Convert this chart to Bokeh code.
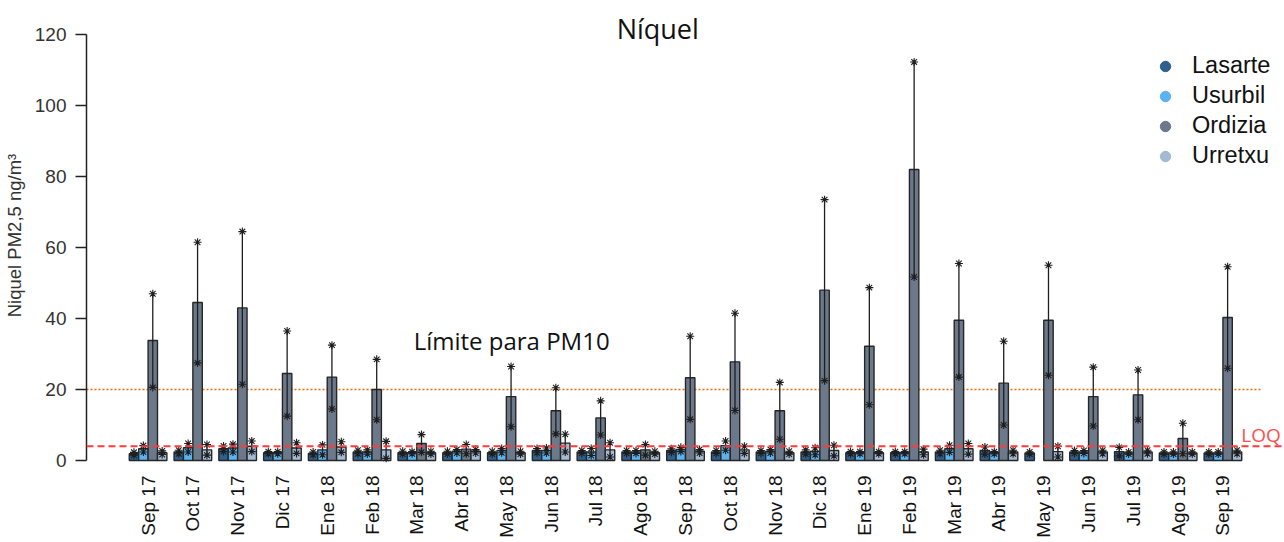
import math
import numpy as np
from bokeh.plotting import figure
from bokeh.models import (ColumnDataSource, Range1d, FixedTicker, Span, Label,
                          Legend, LegendItem)
from bokeh.transform import dodge
from bokeh.embed import file_html
from bokeh.resources import INLINE

# Monthly mean nickel concentrations in PM2.5 (ng/m3) and their standard deviations
months = ["Sep 17", "Oct 17", "Nov 17", "Dic 17", "Ene 18", "Feb 18", "Mar 18",
          "Abr 18", "May 18", "Jun 18", "Jul 18", "Ago 18", "Sep 18", "Oct 18",
          "Nov 18", "Dic 18", "Ene 19", "Feb 19", "Mar 19", "Abr 19", "May 19",
          "Jun 19", "Jul 19", "Ago 19", "Sep 19"]

lasarte = [1.9, 2.4, 3.3, 2.2, 2.0, 2.4, 2.2, 2.2, 2.2, 2.8, 2.4, 2.4, 2.8,
           2.4, 2.4, 2.4, 2.2, 2.2, 2.4, 2.8, 2.1, 2.4, 2.5, 2.1, 2.1]
lasarte_sd = [0.4, 0.5, 0.8, 0.3, 0.4, 0.5, 0.4, 0.4, 0.4, 0.6, 0.4, 0.4, 0.5,
              0.4, 0.4, 0.6, 0.3, 0.3, 0.5, 1.0, 0.3, 0.4, 1.2, 0.3, 0.3]

usurbil = [3.3, 3.6, 3.5, 2.2, 3.0, 2.4, 2.2, 2.6, 2.8, 2.8, 2.4, 2.4, 3.1,
           4.2, 2.6, 2.6, 2.2, 2.2, 3.3, 2.2, np.nan, 2.4, 2.1, 2.1, 2.1]
usurbil_sd = [0.9, 1.2, 1.1, 0.3, 1.4, 0.6, 0.3, 0.5, 0.6, 0.7, 1.0, 0.4, 0.6,
              1.3, 0.5, 1.0, 0.3, 0.3, 1.0, 0.3, np.nan, 0.4, 0.3, 0.3, 0.3]

ordizia = [33.8, 44.5, 43.0, 24.5, 23.5, 20.0, 4.8, 3.2, 18.0, 14.0, 12.0, 3.0,
           23.3, 27.8, 14.0, 48.0, 32.2, 82.0, 39.5, 21.8, 39.5, 18.0, 18.5,
           6.2, 40.3]
ordizia_sd = [13.2, 17.0, 21.5, 12.0, 9.0, 8.5, 2.5, 1.3, 8.5, 6.5, 4.8, 1.5,
              11.7, 13.7, 8.0, 25.5, 16.5, 30.3, 16.0, 11.8, 15.5, 8.3, 7.0,
              4.3, 14.3]

urretxu = [2.2, 3.0, 4.0, 3.5, 3.8, 3.0, 2.2, 2.6, 2.2, 4.9, 3.0, 2.2, 2.6,
           3.0, 2.2, 2.8, 2.2, 2.4, 3.3, 2.4, 2.5, 2.4, 2.4, 2.1, 2.4]
urretxu_sd = [0.5, 1.5, 1.5, 1.5, 1.5, 2.4, 0.4, 0.5, 0.4, 2.5, 2.0, 0.4, 0.5,
              1.0, 0.4, 1.5, 0.3, 0.8, 1.5, 0.5, 1.5, 0.5, 0.5, 0.3, 0.5]

stations = ["Lasarte", "Usurbil", "Ordizia", "Urretxu"]
colors = ["#2F5F8C", "#5AB2F0", "#6B798B", "#A3BAD5"]
means = [lasarte, usurbil, ordizia, urretxu]
sds = [lasarte_sd, usurbil_sd, ordizia_sd, urretxu_sd]

y_ticks = [0, 20, 40, 60, 80, 100, 120]
pm10_limit = 20
loq = 4

x_idx = list(range(len(months)))
bar_w = 0.21
offsets = [-1.5 * bar_w, -0.5 * bar_w, 0.5 * bar_w, 1.5 * bar_w]

p = figure(width=1284, height=542, output_backend="svg", toolbar_location=None,
           x_range=Range1d(-1.375, len(months) + 0.375),
           y_range=Range1d(-1.41, 128.2),
           min_border_left=86, min_border_right=0, min_border_top=5,
           min_border_bottom=77)
p.outline_line_color = None
p.grid.visible = False
p.background_fill_color = "white"

# reference lines
p.segment(x0=p.x_range.start, y0=pm10_limit, x1=len(months) - 0.16,
          y1=pm10_limit, line_color="#F06A00", line_dash="2 2",
          line_width=1.4)
p.add_layout(Span(location=loq, dimension="width", line_color="#FF3B3B",
                  line_dash="7 4", line_width=2))

# grouped bars with error bars
legend_renderers = []
for name, col, m, s, off in zip(stations, colors, means, sds, offsets):
    m_arr = np.array(m, dtype=float)
    s_arr = np.array(s, dtype=float)
    src = ColumnDataSource(dict(x=x_idx, top=m_arr, lower=m_arr - s_arr,
                                upper=m_arr + s_arr))
    xd = dodge("x", off, range=p.x_range)
    p.vbar(x=xd, top="top", bottom=0, width=bar_w, source=src,
           fill_color=col, line_color="#262626", line_width=1.4)
    p.segment(x0=xd, y0="lower", x1=xd, y1="upper", source=src,
              line_color="#1E1E1E", line_width=1.3)
    for end in ("lower", "upper"):
        p.scatter(x=xd, y=end, source=src, marker="asterisk", size=8,
                  line_color="#1E1E1E", line_width=1.1)
    legend_renderers.append(
        p.scatter(x=[np.nan], y=[np.nan], marker="circle", size=12,
                  fill_color=col, line_color=col))

legend = Legend(items=[LegendItem(label=n, renderers=[r])
                       for n, r in zip(stations, legend_renderers)],
                location=(1066, 296), padding=0, margin=0, spacing=3,
                glyph_width=26, glyph_height=26, label_height=20,
                label_standoff=14, label_text_font="Liberation Sans",
                label_text_font_size="23.5px", label_text_color="#111111",
                background_fill_alpha=0, border_line_color=None)
p.add_layout(legend)

# y axis
yax = p.yaxis[0]
yax.ticker = FixedTicker(ticks=y_ticks)
yax.bounds = (0, 120)
yax.axis_label = "Niquel PM2,5 ng/m³"
yax.axis_label_text_font = "Liberation Sans"
yax.axis_label_text_font_size = "18.5px"
yax.axis_label_text_font_style = "normal"
yax.axis_label_text_color = "#333333"
yax.axis_label_standoff = 7
yax.major_label_text_font = "Liberation Sans"
yax.major_label_text_font_size = "19px"
yax.major_label_text_color = "#333333"
yax.major_label_standoff = 9
yax.major_tick_out = 11
yax.major_tick_in = 0
yax.minor_tick_line_color = None
yax.axis_line_color = "#222222"
yax.axis_line_width = 1.5
yax.major_tick_line_color = "#222222"
yax.major_tick_line_width = 1.5

# x axis with month names
xax = p.xaxis[0]
xax.ticker = FixedTicker(ticks=x_idx)
xax.major_label_overrides = {i: mth for i, mth in zip(x_idx, months)}
xax.major_label_orientation = math.pi / 2
xax.major_label_text_font = "Liberation Sans"
xax.major_label_text_font_size = "19px"
xax.major_label_text_color = "#111111"
xax.major_label_standoff = 4
xax.axis_line_color = None
xax.major_tick_line_color = None
xax.minor_tick_line_color = None

# text annotations
p.add_layout(Label(x=11.38, y=121.8, text="Níquel", text_align="center",
                   text_baseline="middle", text_font="Open Sans",
                   text_font_size="27px", text_color="#111111"))
p.add_layout(Label(x=5.93, y=33.8, text="Límite para PM10", text_align="left",
                   text_baseline="middle", text_font="Open Sans",
                   text_font_size="24px", text_color="#111111"))
p.add_layout(Label(x=25.29, y=7.3, text="LOQ", text_align="right",
                   text_baseline="middle", text_font="Open Sans",
                   text_font_size="19px", text_color="#FF4D4D"))

open("out.html", "w").write(file_html(p, INLINE))
